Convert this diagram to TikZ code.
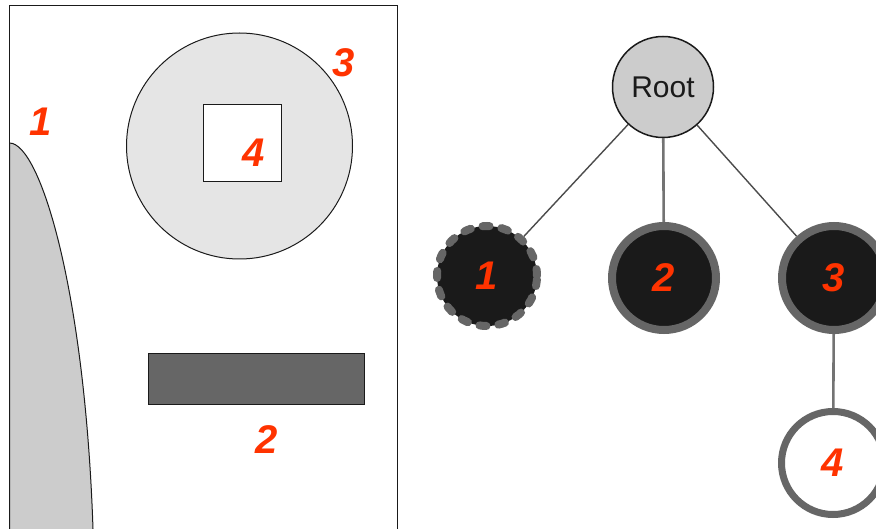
\documentclass[tikz,border=0pt]{standalone}
\usepackage{fontspec}
\setmainfont{Liberation Sans}
\definecolor{tagred}{HTML}{FF3300}
\definecolor{ink}{HTML}{1A1A1A}
\begin{document}
\begin{tikzpicture}[x=1pt, y=-1pt,
          tag/.style={font=\fontsize{40}{40}\selectfont\bfseries\itshape, text=tagred, inner sep=0pt},
          region/.style={draw=ink, line width=1pt},
          vert/.style={circle, inner sep=0pt, font=\fontsize{40}{40}\selectfont\bfseries\itshape, text=tagred},
          solid/.style={vert, fill=ink, draw=black!60, line width=8pt, minimum size=104pt},
          loose/.style={vert, fill=ink, draw=black!60, line width=8pt, minimum size=100pt,
                        dash pattern=on 7pt off 12pt, line cap=round},
          empty/.style={vert, fill=white, draw=black!60, line width=7pt, minimum size=103pt},
          link/.style={draw=black!70, line width=1.4pt},
          stem/.style={draw=black!55, line width=2.6pt}]
        % pixel grid, y pointing down; the left frame runs off the bottom edge
        \useasboundingbox (0,0) rectangle (876,529);
        \clip (0,0) rectangle (876,529);
        \fill[white] (0,0) rectangle (876,529);
        \draw[region] (9.5,6) rectangle (397,560);
        % region 1: bulge hanging from the left edge
        \draw[region, fill=black!20] (9.5,143) .. controls (40,143) and (85,290) .. (93,529)
          -- (94,560) -- (9.5,560) -- cycle;
        % region 3 with the hole 4 inside it
        \draw[region, fill=black!10] (239.5,146) circle[radius=113];
        \draw[region, fill=white] (203,105) rectangle (281,182);
        % region 2: the bar
        \draw[region, fill=black!60] (148,354) rectangle (364,405);
        \node[tag] (t1) at (41,122) {1};
        \node[tag] (t3) at (344,63) {3};
        \node[tag] (t4) at (254,153) {4};
        \node[tag] (t2) at (267,440) {2};
        % the tree
        \node[circle, fill=black!20, draw=ink, line width=1.5pt, minimum size=101pt, inner sep=0pt,
              font=\fontsize{30}{30}\selectfont, text=ink] (root) at (663,87) {Root};
        \node[loose] (n1) at (487,276) {1};
        \node[solid] (n2) at (664,278) {2};
        \node[solid] (n3) at (834,278) {3};
        \node[empty] (n4) at (833,463) {4};
        \draw[link] (root) -- (n1);
        \draw[stem] (root) -- (n2);
        \draw[link] (root) -- (n3);
        \draw[stem] (n3) -- (n4);
      \end{tikzpicture}
\end{document}
